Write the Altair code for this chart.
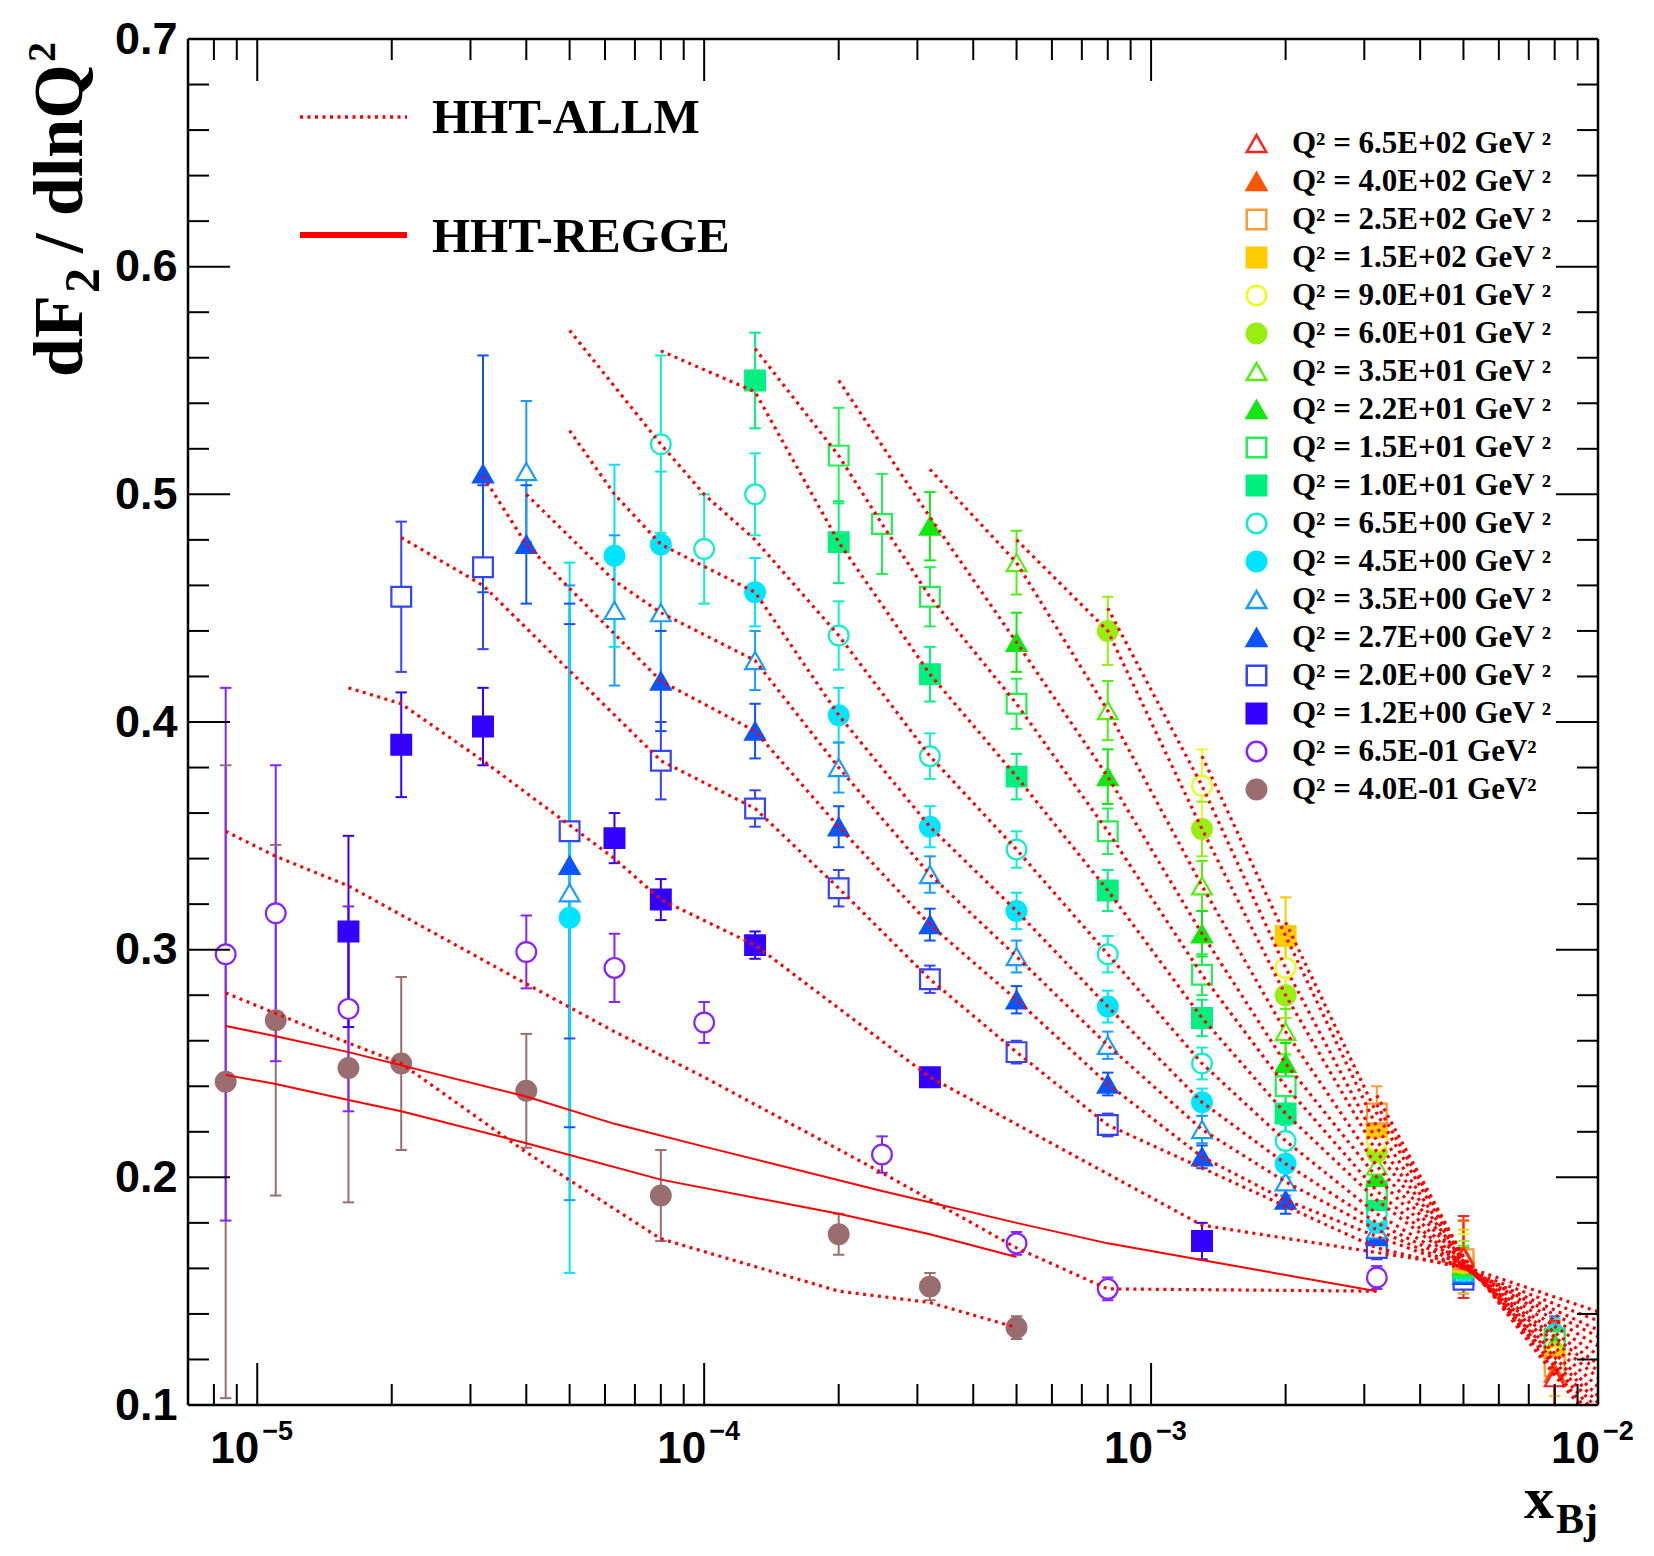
import altair as alt
import pandas as pd

W, H = 1410, 1366

# ---------------- series metadata (legend order) ----------------
labels = [
    "Q² = 6.5E+02 GeV ²", "Q² = 4.0E+02 GeV ²", "Q² = 2.5E+02 GeV ²", "Q² = 1.5E+02 GeV ²",
    "Q² = 9.0E+01 GeV ²", "Q² = 6.0E+01 GeV ²", "Q² = 3.5E+01 GeV ²", "Q² = 2.2E+01 GeV ²",
    "Q² = 1.5E+01 GeV ²", "Q² = 1.0E+01 GeV ²", "Q² = 6.5E+00 GeV ²", "Q² = 4.5E+00 GeV ²",
    "Q² = 3.5E+00 GeV ²", "Q² = 2.7E+00 GeV ²", "Q² = 2.0E+00 GeV ²", "Q² = 1.2E+00 GeV ²",
    "Q² = 6.5E-01 GeV²", "Q² = 4.0E-01 GeV²",
]
colors = ["#ff2020", "#ff5500", "#ff9933", "#ffcc00", "#e8ff1a", "#99ee11", "#55ee11", "#11e811",
          "#22ee55", "#00f080", "#11eecc", "#00e5ff", "#1a9cff", "#0a55ff", "#3344ff", "#3300ff",
          "#8822ff", "#9a6e70"]
shapes = ["triangle-up", "triangle-up", "square", "square", "circle", "circle"] * 3
filled = [False, True] * 9

# ---------------- data points: x, dF2/dlnQ2, error ----------------
x_650 = [5e-3, 8e-3]
y_650 = [0.165, 0.112]
e_650 = [0.018, 0.025]

x_400 = [5e-3, 8e-3]
y_400 = [0.166, 0.114]
e_400 = [0.015, 0.022]

x_250 = [3.2e-3, 5e-3, 8e-3]
y_250 = [0.228, 0.164, 0.117]
e_250 = [0.012, 0.017, 0.018]

x_150 = [2e-3, 3.2e-3, 5e-3, 8e-3]
y_150 = [0.306, 0.222, 0.163, 0.119]
e_150 = [0.017, 0.010, 0.014, 0.015]

x_90 = [1.3e-3, 2e-3, 3.2e-3, 5e-3, 8e-3]
y_90 = [0.372, 0.292, 0.216, 0.163, 0.121]
e_90 = [0.016, 0.012, 0.009, 0.012, 0.012]

x_60 = [8e-4, 1.3e-3, 2e-3, 3.2e-3, 5e-3, 8e-3]
y_60 = [0.440, 0.353, 0.280, 0.211, 0.162, 0.123]
e_60 = [0.015, 0.012, 0.010, 0.009, 0.010, 0.010]

x_35 = [5e-4, 8e-4, 1.3e-3, 2e-3, 3.2e-3, 5e-3, 8e-3]
y_35 = [0.470, 0.405, 0.328, 0.264, 0.205, 0.162, 0.125]
e_35 = [0.014, 0.013, 0.011, 0.010, 0.008, 0.008, 0.009]

x_22 = [3.2e-4, 5e-4, 8e-4, 1.3e-3, 2e-3, 3.2e-3, 5e-3, 8e-3]
y_22 = [0.486, 0.435, 0.376, 0.307, 0.250, 0.200, 0.161, 0.127]
e_22 = [0.015, 0.013, 0.012, 0.010, 0.009, 0.008, 0.008, 0.008]

x_15 = [2e-4, 2.5e-4, 3.2e-4, 5e-4, 8e-4, 1.3e-3, 2e-3, 3.2e-3, 5e-3, 8e-3]
y_15 = [0.517, 0.487, 0.455, 0.408, 0.352, 0.289, 0.240, 0.194, 0.161, 0.128]
e_15 = [0.021, 0.022, 0.013, 0.011, 0.010, 0.009, 0.008, 0.007, 0.007, 0.007]

x_10 = [1.3e-4, 2e-4, 3.2e-4, 5e-4, 8e-4, 1.3e-3, 2e-3, 3.2e-3, 5e-3, 8e-3]
y_10 = [0.550, 0.479, 0.421, 0.376, 0.326, 0.270, 0.228, 0.190, 0.160, 0.129]
e_10 = [0.021, 0.018, 0.012, 0.010, 0.009, 0.008, 0.008, 0.007, 0.007, 0.007]

x_6p5 = [8e-5, 1e-4, 1.3e-4, 2e-4, 3.2e-4, 5e-4, 8e-4, 1.3e-3, 2e-3, 3.2e-3, 5e-3, 8e-3]
y_6p5 = [0.522, 0.476, 0.500, 0.438, 0.385, 0.344, 0.298, 0.250, 0.216, 0.184, 0.160, 0.130]
e_6p5 = [0.039, 0.024, 0.018, 0.015, 0.010, 0.008, 0.008, 0.007, 0.007, 0.006, 0.006, 0.007]

x_4p5 = [5e-5, 6.3e-5, 8e-5, 1.3e-4, 2e-4, 3.2e-4, 5e-4, 8e-4, 1.3e-3, 2e-3, 3.2e-3, 5e-3, 8e-3]
y_4p5 = [0.314, 0.473, 0.478, 0.457, 0.403, 0.354, 0.317, 0.275, 0.233, 0.206, 0.180, 0.159, 0.131]
e_4p5 = [0.156, 0.040, 0.032, 0.015, 0.012, 0.009, 0.008, 0.007, 0.006, 0.006, 0.006, 0.006, 0.007]

x_3p5 = [4e-5, 5e-5, 6.3e-5, 8e-5, 1.3e-4, 2e-4, 3.2e-4, 5e-4, 8e-4, 1.3e-3, 2e-3, 3.2e-3, 5e-3, 8e-3]
y_3p5 = [0.510, 0.325, 0.449, 0.448, 0.427, 0.380, 0.333, 0.297, 0.258, 0.221, 0.198, 0.177, 0.158, 0.132]
e_3p5 = [0.031, 0.135, 0.033, 0.030, 0.013, 0.011, 0.008, 0.007, 0.006, 0.006, 0.006, 0.006, 0.006, 0.007]

x_2p7 = [3.2e-5, 4e-5, 5e-5, 8e-5, 1.3e-4, 2e-4, 3.2e-4, 5e-4, 8e-4, 1.3e-3, 2e-3, 3.2e-3, 5e-3]
y_2p7 = [0.509, 0.478, 0.337, 0.418, 0.396, 0.354, 0.311, 0.278, 0.241, 0.209, 0.190, 0.174, 0.157]
e_2p7 = [0.052, 0.026, 0.115, 0.022, 0.012, 0.009, 0.007, 0.006, 0.005, 0.005, 0.006, 0.006, 0.006]

x_2p0 = [2.1e-5, 3.2e-5, 5e-5, 8e-5, 1.3e-4, 2e-4, 3.2e-4, 5e-4, 8e-4, 3.2e-3, 5e-3]
y_2p0 = [0.455, 0.468, 0.352, 0.383, 0.362, 0.327, 0.287, 0.255, 0.223, 0.169, 0.155]
e_2p0 = [0.033, 0.036, 0.091, 0.017, 0.008, 0.008, 0.006, 0.005, 0.005, 0.005, 0.006]

x_1p2 = [1.6e-5, 2.1e-5, 3.2e-5, 6.3e-5, 8e-5, 1.3e-4, 3.2e-4, 1.3e-3]
y_1p2 = [0.308, 0.390, 0.398, 0.349, 0.322, 0.302, 0.244, 0.172]
e_1p2 = [0.042, 0.023, 0.017, 0.011, 0.009, 0.006, 0.004, 0.008]

x_0p65 = [8.5e-6, 1.1e-5, 1.6e-5, 4e-5, 6.3e-5, 1e-4, 2.5e-4, 5e-4, 8e-4, 3.2e-3]
y_0p65 = [0.298, 0.316, 0.274, 0.299, 0.292, 0.268, 0.210, 0.171, 0.151, 0.156]
e_0p65 = [0.117, 0.065, 0.045, 0.016, 0.015, 0.009, 0.008, 0.005, 0.005, 0.005]

x_0p40 = [8.5e-6, 1.1e-5, 1.6e-5, 2.1e-5, 4e-5, 8e-5, 2e-4, 3.2e-4, 5e-4]
y_0p40 = [0.242, 0.269, 0.248, 0.250, 0.238, 0.192, 0.175, 0.152, 0.134]
e_0p40 = [0.139, 0.077, 0.059, 0.038, 0.025, 0.020, 0.009, 0.006, 0.005]

data_x = [x_650, x_400, x_250, x_150, x_90, x_60, x_35, x_22, x_15, x_10, x_6p5, x_4p5, x_3p5,
          x_2p7, x_2p0, x_1p2, x_0p65, x_0p40]
data_y = [y_650, y_400, y_250, y_150, y_90, y_60, y_35, y_22, y_15, y_10, y_6p5, y_4p5, y_3p5,
          y_2p7, y_2p0, y_1p2, y_0p65, y_0p40]
data_e = [e_650, e_400, e_250, e_150, e_90, e_60, e_35, e_22, e_15, e_10, e_6p5, e_4p5, e_3p5,
          e_2p7, e_2p0, e_1p2, e_0p65, e_0p40]

# ---------------- HHT-ALLM model curves (dotted) ----------------
allm_x_650 = [3.2e-3, 5e-3, 8e-3, 1e-2]
allm_y_650 = [0.236, 0.165, 0.113, 0.090]
allm_x_400 = [3.2e-3, 5e-3, 8e-3, 1e-2]
allm_y_400 = [0.232, 0.165, 0.115, 0.092]
allm_x_250 = [2e-3, 3.2e-3, 5e-3, 8e-3, 1e-2]
allm_y_250 = [0.312, 0.228, 0.164, 0.117, 0.095]
allm_x_150 = [1.3e-3, 2e-3, 3.2e-3, 5e-3, 1e-2]
allm_y_150 = [0.385, 0.306, 0.222, 0.163, 0.098]
allm_x_90 = [8e-4, 1.3e-3, 2e-3, 3.2e-3, 5e-3, 1e-2]
allm_y_90 = [0.450, 0.372, 0.292, 0.216, 0.163, 0.101]
allm_x_60 = [5e-4, 8e-4, 1.3e-3, 2e-3, 3.2e-3, 5e-3, 1e-2]
allm_y_60 = [0.480, 0.440, 0.353, 0.280, 0.211, 0.162, 0.104]
allm_x_35 = [3.2e-4, 5e-4, 8e-4, 1.3e-3, 2e-3, 3.2e-3, 5e-3, 1e-2]
allm_y_35 = [0.511, 0.470, 0.405, 0.328, 0.264, 0.205, 0.162, 0.108]
allm_x_22 = [2e-4, 3.2e-4, 5e-4, 8e-4, 1.3e-3, 2e-3, 3.2e-3, 5e-3, 1e-2]
allm_y_22 = [0.550, 0.490, 0.435, 0.376, 0.307, 0.250, 0.200, 0.161, 0.112]
allm_x_15 = [1.3e-4, 2e-4, 2.5e-4, 3.2e-4, 5e-4, 8e-4, 1.3e-3, 2e-3, 3.2e-3, 5e-3, 1e-2]
allm_y_15 = [0.564, 0.517, 0.487, 0.455, 0.408, 0.352, 0.289, 0.240, 0.194, 0.161, 0.115]
allm_x_10 = [8e-5, 1.3e-4, 2e-4, 3.2e-4, 5e-4, 8e-4, 1.3e-3, 2e-3, 3.2e-3, 5e-3, 1e-2]
allm_y_10 = [0.563, 0.545, 0.479, 0.421, 0.376, 0.326, 0.270, 0.228, 0.190, 0.161, 0.118]
allm_x_6p5 = [5e-5, 8e-5, 1e-4, 1.3e-4, 2e-4, 3.2e-4, 5e-4, 8e-4, 1.3e-3, 2e-3, 3.2e-3, 5e-3, 1e-2]
allm_y_6p5 = [0.572, 0.522, 0.500, 0.480, 0.438, 0.385, 0.344, 0.298, 0.250, 0.216, 0.184, 0.161, 0.122]
allm_x_4p5 = [5e-5, 6.3e-5, 8e-5, 1.3e-4, 2e-4, 3.2e-4, 5e-4, 8e-4, 1.3e-3, 2e-3, 3.2e-3, 5e-3, 1e-2]
allm_y_4p5 = [0.528, 0.500, 0.478, 0.457, 0.403, 0.354, 0.317, 0.275, 0.233, 0.206, 0.180, 0.161, 0.126]
allm_x_3p5 = [4e-5, 6.3e-5, 8e-5, 1.3e-4, 2e-4, 3.2e-4, 5e-4, 8e-4, 1.3e-3, 2e-3, 3.2e-3, 5e-3, 1e-2]
allm_y_3p5 = [0.500, 0.462, 0.448, 0.427, 0.380, 0.333, 0.297, 0.258, 0.221, 0.198, 0.177, 0.160, 0.130]
allm_x_2p7 = [3.2e-5, 4e-5, 8e-5, 1.3e-4, 2e-4, 3.2e-4, 5e-4, 8e-4, 1.3e-3, 2e-3, 3.2e-3, 5e-3, 1e-2]
allm_y_2p7 = [0.508, 0.478, 0.418, 0.396, 0.354, 0.311, 0.278, 0.241, 0.209, 0.190, 0.174, 0.160, 0.133]
allm_x_2p0 = [2.1e-5, 3.2e-5, 8e-5, 1.3e-4, 2e-4, 3.2e-4, 5e-4, 8e-4, 3.2e-3, 5e-3, 1e-2]
allm_y_2p0 = [0.481, 0.460, 0.383, 0.362, 0.327, 0.287, 0.255, 0.223, 0.169, 0.160, 0.137]
allm_x_1p2 = [1.6e-5, 2.1e-5, 3.2e-5, 6.3e-5, 8e-5, 1.3e-4, 3.2e-4, 1.3e-3, 5e-3, 1e-2]
allm_y_1p2 = [0.415, 0.408, 0.383, 0.340, 0.322, 0.302, 0.244, 0.179, 0.161, 0.141]
allm_x_0p65 = [8.5e-6, 1.1e-5, 1.6e-5, 4e-5, 6.3e-5, 1e-4, 2.5e-4, 5e-4, 8e-4, 3.2e-3]
allm_y_0p65 = [0.352, 0.341, 0.328, 0.285, 0.264, 0.244, 0.202, 0.169, 0.151, 0.150]
allm_x_0p40 = [8.5e-6, 1.1e-5, 1.6e-5, 2.1e-5, 4e-5, 8e-5, 2e-4, 3.2e-4, 5e-4]
allm_y_0p40 = [0.281, 0.272, 0.259, 0.250, 0.211, 0.173, 0.150, 0.145, 0.134]

allm_x = [allm_x_650, allm_x_400, allm_x_250, allm_x_150, allm_x_90, allm_x_60, allm_x_35,
          allm_x_22, allm_x_15, allm_x_10, allm_x_6p5, allm_x_4p5, allm_x_3p5, allm_x_2p7,
          allm_x_2p0, allm_x_1p2, allm_x_0p65, allm_x_0p40]
allm_y = [allm_y_650, allm_y_400, allm_y_250, allm_y_150, allm_y_90, allm_y_60, allm_y_35,
          allm_y_22, allm_y_15, allm_y_10, allm_y_6p5, allm_y_4p5, allm_y_3p5, allm_y_2p7,
          allm_y_2p0, allm_y_1p2, allm_y_0p65, allm_y_0p40]

# ---------------- HHT-REGGE model curves (solid) ----------------
regge_x_0p65 = [8.5e-6, 1.1e-5, 1.6e-5, 4e-5, 6.3e-5, 1e-4, 2.5e-4, 5e-4, 8e-4, 3.2e-3]
regge_y_0p65 = [0.2665, 0.262, 0.255, 0.2355, 0.2235, 0.2135, 0.194, 0.180, 0.171, 0.150]
regge_x_0p40 = [8.5e-6, 1.1e-5, 1.6e-5, 2.1e-5, 4e-5, 8e-5, 2e-4, 3.2e-4, 5e-4]
regge_y_0p40 = [0.245, 0.241, 0.234, 0.229, 0.215, 0.199, 0.184, 0.175, 0.165]

# ---------------- axis tick positions ----------------
y_major = [0.1, 0.2, 0.3, 0.4, 0.5, 0.6, 0.7]
y_minor = [0.12, 0.14, 0.16, 0.18, 0.22, 0.24, 0.26, 0.28, 0.32, 0.34, 0.36, 0.38,
           0.42, 0.44, 0.46, 0.48, 0.52, 0.54, 0.56, 0.58, 0.62, 0.64, 0.66, 0.68]
x_major = [1e-5, 1e-4, 1e-3, 1e-2]
x_minor = [8e-6, 9e-6,
           2e-5, 3e-5, 4e-5, 5e-5, 6e-5, 7e-5, 8e-5, 9e-5,
           2e-4, 3e-4, 4e-4, 5e-4, 6e-4, 7e-4, 8e-4, 9e-4,
           2e-3, 3e-3, 4e-3, 5e-3, 6e-3, 7e-3, 8e-3, 9e-3]
x_exp = ["−5", "−4", "−3", "−2"]

# ---------------- tables ----------------
pt_rows = []
for i in reversed(range(len(labels))):
    for xv, yv, ev in zip(data_x[i], data_y[i], data_e[i]):
        pt_rows.append({"label": labels[i], "color": colors[i], "x": xv, "y": yv,
                        "lo": yv - ev, "hi": yv + ev})
pts = pd.DataFrame(pt_rows)
caps = pd.concat([
    pts[["label", "color", "x", "lo"]].rename(columns={"lo": "v"}),
    pts[["label", "color", "x", "hi"]].rename(columns={"hi": "v"}),
])

allm_rows = []
for i in range(len(labels)):
    for k, (xv, yv) in enumerate(zip(allm_x[i], allm_y[i])):
        allm_rows.append({"series": "A" + str(i), "x": xv, "y": yv, "o": k})
allm_df = pd.DataFrame(allm_rows)
regge_rows = []
for name, xs_, ys_ in [("R0", regge_x_0p65, regge_y_0p65), ("R1", regge_x_0p40, regge_y_0p40)]:
    for k, (xv, yv) in enumerate(zip(xs_, ys_)):
        regge_rows.append({"series": name, "x": xv, "y": yv, "o": k})
regge_df = pd.DataFrame(regge_rows)

# ---------------- scales / axes ----------------
xs = alt.Scale(type="log", domain=[7.0e-6, 1.0e-2], nice=False)
ys = alt.Scale(domain=[0.1, 0.7], nice=False, zero=False)
yaxis = alt.Axis(values=y_major, format=".1f", ticks=False, domain=False, grid=False,
                 labelFont="Liberation Sans", labelFontWeight="bold", labelFontSize=45,
                 labelPadding=11, labelColor="black", labelFlush=False, labelOverlap=False,
                 title=None)


def X(f):
    return alt.X(f, scale=xs, axis=None)


def Y(f):
    return alt.Y(f, scale=ys, axis=yaxis)


fill_range = [c if f else "white" for c, f in zip(colors, filled)]
one = pd.DataFrame({"a": [0]})

# ---------------- layers ----------------
errbars = alt.Chart(pts).mark_rule(strokeWidth=2, clip=True).encode(
    x=X("x:Q"), y=Y("lo:Q"), y2="hi:Q", stroke=alt.Stroke("color:N", scale=None))

errcaps = alt.Chart(caps).mark_point(shape="M-1,0L1,0", size=130, filled=False, strokeWidth=2,
                                     opacity=1, clip=True).encode(
    x=X("x:Q"), y=Y("v:Q"), stroke=alt.Stroke("color:N", scale=None))

q_legend = alt.Legend(orient="none", legendX=1053, legendY=89, title=None, padding=0,
                      symbolSize=380, symbolStrokeWidth=2.5, labelFont="Liberation Serif",
                      labelFontWeight="bold", labelFontSize=31, labelColor="black",
                      labelOffset=20, rowPadding=6, labelLimit=600, direction="vertical")

markers = alt.Chart(pts).mark_point(filled=True, size=390, strokeWidth=2.2, opacity=1,
                                    clip=True).encode(
    x=X("x:Q"), y=Y("y:Q"),
    stroke=alt.Stroke("label:N", scale=alt.Scale(domain=labels, range=colors), legend=q_legend),
    fill=alt.Fill("label:N", scale=alt.Scale(domain=labels, range=fill_range), legend=q_legend),
    shape=alt.Shape("label:N", scale=alt.Scale(domain=labels, range=shapes), legend=q_legend),
)

allm_lines = alt.Chart(allm_df).mark_line(color="#ff0000", strokeWidth=3.2, strokeDash=[3, 4.5],
                                          clip=True).encode(
    x=X("x:Q"), y=Y("y:Q"), detail="series:N", order="o:Q")
regge_lines = alt.Chart(regge_df).mark_line(color="#ff0000", strokeWidth=2, clip=True).encode(
    x=X("x:Q"), y=Y("y:Q"), detail="series:N", order="o:Q")

# model legend (top left)
leg_allm = alt.Chart(one).mark_rule(color="#ff0000", strokeWidth=3.5, strokeDash=[3, 4.5]).encode(
    x=alt.value(112), x2=alt.value(219), y=alt.value(78))
leg_regge = alt.Chart(one).mark_rule(color="#ff0000", strokeWidth=6).encode(
    x=alt.value(112), x2=alt.value(219), y=alt.value(196))

# frame
frame = [
    alt.Chart(one).mark_rule(color="black", strokeWidth=2.5).encode(
        x=alt.value(0), y=alt.value(0), y2=alt.value(H)),
    alt.Chart(one).mark_rule(color="black", strokeWidth=2.5).encode(
        x=alt.value(W), y=alt.value(0), y2=alt.value(H)),
    alt.Chart(one).mark_rule(color="black", strokeWidth=2.5).encode(
        y=alt.value(0), x=alt.value(0), x2=alt.value(W)),
    alt.Chart(one).mark_rule(color="black", strokeWidth=2.5).encode(
        y=alt.value(H), x=alt.value(0), x2=alt.value(W)),
]


def yticks(vals, a, b):
    return alt.Chart(pd.DataFrame({"v": vals})).mark_rule(color="black", strokeWidth=2).encode(
        y=Y("v:Q"), x=alt.value(a), x2=alt.value(b))


def xticks(vals, a, b):
    return alt.Chart(pd.DataFrame({"v": vals})).mark_rule(color="black", strokeWidth=2).encode(
        x=X("v:Q"), y=alt.value(a), y2=alt.value(b))


tick_layers = [
    yticks(y_major, 0, 42), yticks(y_minor, 0, 21),
    yticks(y_major, W - 42, W), yticks(y_minor, W - 21, W),
    xticks(x_major, H - 42, H), xticks(x_minor, H - 21, H),
    xticks(x_major, 0, 42), xticks(x_minor, 0, 21),
]

xlab_df = pd.DataFrame({"v": x_major, "base": ["10"] * 4, "exp": x_exp})
xlab_base = alt.Chart(xlab_df).mark_text(align="right", baseline="alphabetic", dx=2, dy=58,
                                         font="Liberation Sans", fontWeight="bold", fontSize=44,
                                         color="black").encode(
    x=X("v:Q"), y=alt.value(H), text="base:N")
xlab_exp = alt.Chart(xlab_df).mark_text(align="left", baseline="alphabetic", dx=5, dy=35,
                                        font="Liberation Sans", fontWeight="bold", fontSize=27,
                                        color="black").encode(
    x=X("v:Q"), y=alt.value(H), text="exp:N")


def txt(s, size, px, py, dx=0, dy=0, align="left", angle=0):
    return alt.Chart(one).mark_text(text=s, font="Liberation Serif", fontWeight="bold",
                                    fontSize=size, align=align, baseline="alphabetic",
                                    dx=dx, dy=dy, angle=angle, color="black").encode(
        x=alt.value(px), y=alt.value(py))


ytitle = [
    txt("dF", 70, -106, 338, angle=270),
    txt("2", 50, -106, 338, dx=84, dy=17, angle=270),
    txt("/ dlnQ", 70, -106, 338, dx=124, angle=270),
    txt("2", 40, -106, 338, dx=315, dy=-27, angle=270),
]
xtitle = [
    txt("x", 60, W - 44, H, dy=113, align="right"),
    txt("Bj", 42, W, H, dy=128, align="right"),
]
legtext = [
    txt("HHT-ALLM", 49, 244, 94),
    txt("HHT-REGGE", 49, 244, 213),
]

chart = alt.layer(
    errbars, errcaps, markers, allm_lines, regge_lines, *tick_layers, *frame,
    leg_allm, leg_regge, *legtext, xlab_base, xlab_exp, *ytitle, *xtitle
).properties(
    width=W, height=H,
    padding={"left": 180, "top": 31, "right": 46, "bottom": 138},
    autosize=alt.AutoSizeParams(type="none"),
).configure_view(stroke=None).configure(background="white")

chart.save("out.html", embed_options={"renderer": "svg", "actions": False})
